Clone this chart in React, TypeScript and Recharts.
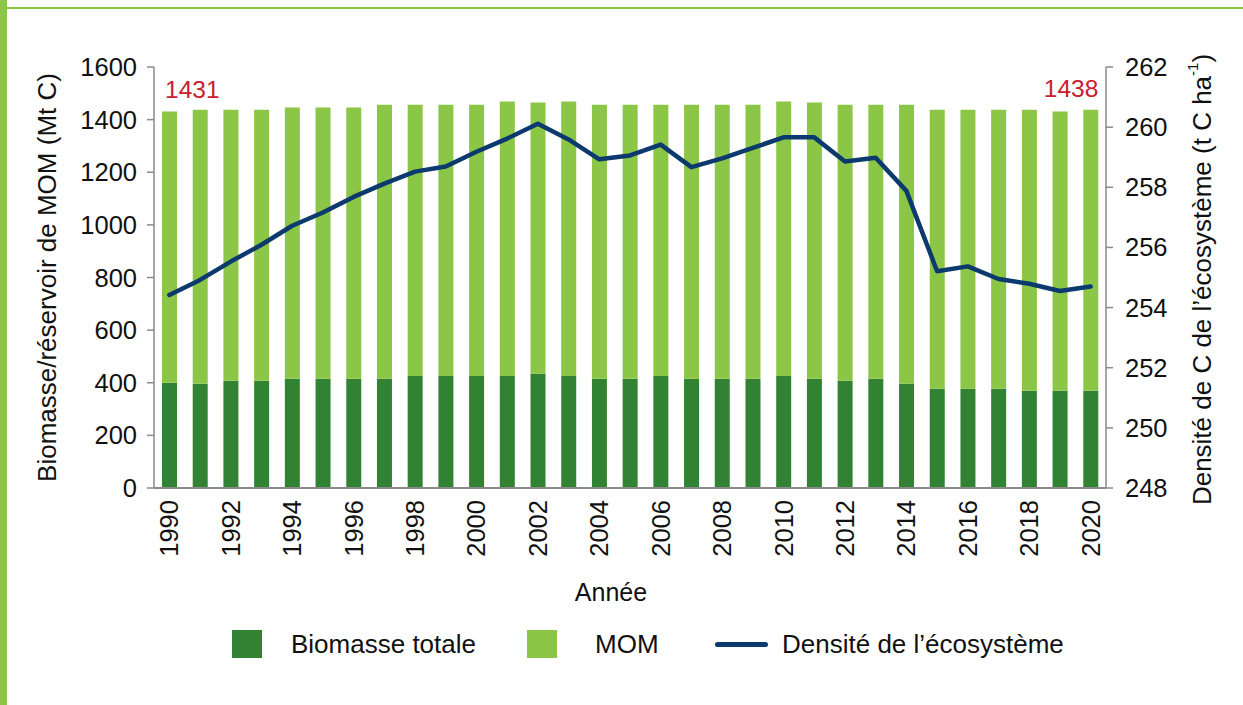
import React from 'react';
import { ComposedChart, Bar, Line, XAxis, YAxis, LabelList, Label } from 'recharts';

const years = ['1990','1991','1992','1993','1994','1995','1996','1997','1998','1999','2000','2001','2002','2003','2004','2005','2006','2007','2008','2009','2010','2011','2012','2013','2014','2015','2016','2017','2018','2019','2020'];
const biomasse = [400,396,408,408,415,415,415,415,426,426,426,426,434,426,415,415,426,415,415,415,426,415,408,415,396,377,377,377,370,370,370];
const mom = [1031,1042,1030,1030,1031,1031,1031,1042,1031,1031,1031,1043,1031,1043,1042,1042,1031,1042,1042,1042,1043,1050,1049,1042,1061,1061,1061,1061,1068,1061,1068];
const densite = [254.42,254.92,255.53,256.09,256.72,257.16,257.68,258.12,258.52,258.69,259.18,259.62,260.11,259.59,258.93,259.06,259.42,258.67,258.96,259.31,259.66,259.66,258.86,258.98,257.88,255.21,255.37,254.95,254.79,254.55,254.70];
const leftTicks = [0,200,400,600,800,1000,1200,1400,1600];
const rightTicks = [248,250,252,254,256,258,260,262];

const data = years.map((y, i) => ({ year: y, biomasse: biomasse[i], mom: mom[i], densite: densite[i], total: biomasse[i] + mom[i] }));

const DARK = '#318232';
const LIGHT = '#8cc646';
const NAVY = '#0c3a6e';
const RED = '#c8202f';
const AXIS = '#8a8a8a';
const FONT = '"Liberation Sans", Arial, Helvetica, sans-serif';
const FS = 25.5;
const TITLE_FS = 26;

const XTick = (props: any) => {
  const { x, y, payload } = props;
  return (
    <text x={x} y={y} transform={`rotate(-90, ${x}, ${y})`} textAnchor="end" dominantBaseline="central" fontSize={FS} fontFamily={FONT} fill="#111">
      {payload.value}
    </text>
  );
};

const EndLabel = (props: any) => {
  const { x, y, width, index } = props;
  const last = data.length - 1;
  if (index !== 0 && index !== last) return null;
  const total = data[index].total;
  return (
    <text x={index === 0 ? x + 3 : x + width} y={y - 13} textAnchor={index === 0 ? 'start' : 'end'} fontSize={24.5} fontFamily={FONT} fill={RED}>
      {total}
    </text>
  );
};

const legendText: React.CSSProperties = { position: 'absolute', top: 628, fontSize: 26, lineHeight: '32px', color: '#111', whiteSpace: 'nowrap' };

export default function App() {
  return (
    <div style={{ position: 'absolute', left: 0, top: 0, width: 1243, height: 705, background: '#fff', fontFamily: FONT }}>
      <div style={{ position: 'absolute', left: 0, top: 0, width: 7, height: 705, background: LIGHT }} />
      <div style={{ position: 'absolute', left: 7, top: 7, width: 1236, height: 1.5, background: LIGHT }} />
      <ComposedChart width={1243} height={705} data={data} margin={{ top: 67, right: 0, left: 0, bottom: 157 }} barSize={15}>
        <XAxis dataKey="year" interval={1} tick={<XTick />} tickLine={false} tickSize={0} tickMargin={12} height={60}
          axisLine={{ stroke: AXIS, strokeWidth: 2 }} />
        <YAxis yAxisId="left" width={154} domain={[0, 1600]} ticks={leftTicks} tickSize={7} tickMargin={10}
          axisLine={{ stroke: AXIS, strokeWidth: 1.5 }} tickLine={{ stroke: AXIS, strokeWidth: 1.5 }}
          tick={{ fontSize: FS, fontFamily: FONT, fill: '#111' }}>
          <Label content={(p: any) => {
            const vb = p.viewBox;
            const cx = vb.x + 47;
            const cy = vb.y + vb.height / 2;
            return (
              <text x={cx} y={cy} transform={`rotate(-90, ${cx}, ${cy})`} textAnchor="middle" dominantBaseline="central" fontSize={TITLE_FS} fontFamily={FONT} fill="#111">
                Biomasse/réservoir de MOM (Mt C)
              </text>
            );
          }} />
        </YAxis>
        <YAxis yAxisId="right" orientation="right" width={137} domain={[248, 262]} ticks={rightTicks} tickSize={7} tickMargin={12}
          axisLine={{ stroke: AXIS, strokeWidth: 1.5 }} tickLine={{ stroke: AXIS, strokeWidth: 1.5 }}
          tick={{ fontSize: FS, fontFamily: FONT, fill: '#111', textAnchor: 'start' }}>
          <Label content={(p: any) => {
            const vb = p.viewBox;
            const cx = vb.x + 96;
            const cy = vb.y + vb.height / 2 + 2;
            return (
              <text x={cx} y={cy} transform={`rotate(-90, ${cx}, ${cy})`} textAnchor="middle" dominantBaseline="central" fontSize={TITLE_FS} fontFamily={FONT} fill="#111">
                Densité de C de l’écosystème (t C ha<tspan fontSize={15} dy={-10}>-1</tspan><tspan dy={10}>)</tspan>
              </text>
            );
          }} />
        </YAxis>
        <Bar yAxisId="left" dataKey="biomasse" stackId="a" fill={DARK} isAnimationActive={false} />
        <Bar yAxisId="left" dataKey="mom" stackId="a" fill={LIGHT} isAnimationActive={false}>
          <LabelList dataKey="total" content={<EndLabel />} />
        </Bar>
        <Line yAxisId="right" type="linear" dataKey="densite" stroke={NAVY} strokeWidth={4.5} dot={false}
          strokeLinejoin="round" strokeLinecap="round" isAnimationActive={false} />
      </ComposedChart>
      <span style={{ position: 'absolute', left: 611, top: 577, transform: 'translateX(-50%)', fontSize: 25, lineHeight: '30px', color: '#111', whiteSpace: 'nowrap' }}>Année</span>
      <span style={{ position: 'absolute', left: 232, top: 630, width: 30, height: 28, background: DARK }} />
      <span style={{ ...legendText, left: 291 }}>Biomasse totale</span>
      <span style={{ position: 'absolute', left: 527, top: 630, width: 30, height: 28, background: LIGHT }} />
      <span style={{ ...legendText, left: 595 }}>MOM</span>
      <span style={{ position: 'absolute', left: 715, top: 642, width: 53, height: 5, background: NAVY, borderRadius: 3 }} />
      <span style={{ ...legendText, left: 782 }}>Densité de l’écosystème</span>
    </div>
  );
}
